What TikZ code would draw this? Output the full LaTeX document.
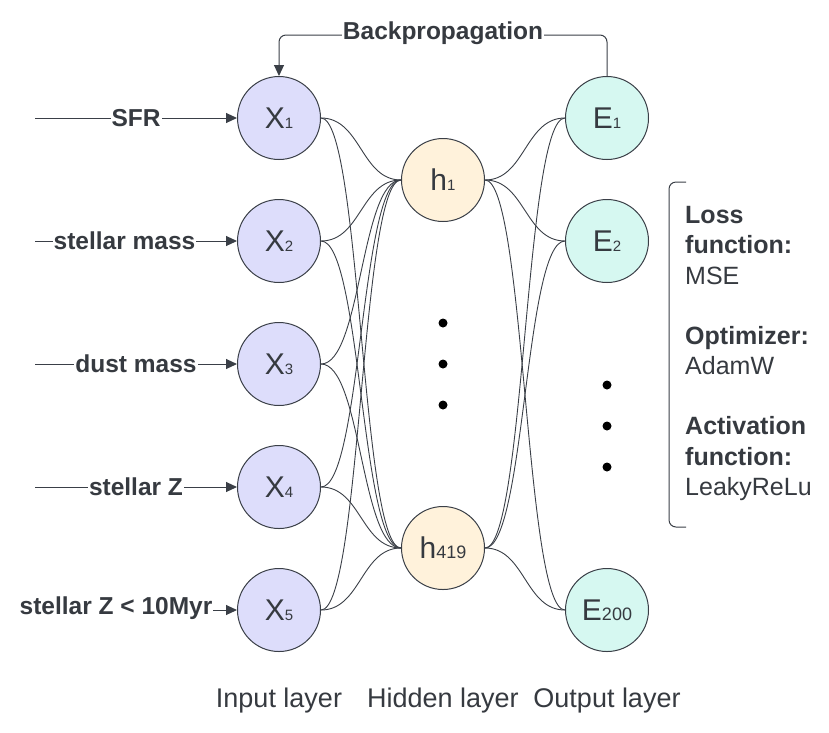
\documentclass[tikz,border=0pt]{standalone}
\usepackage{fontspec}
\setmainfont{Liberation Sans}
\usetikzlibrary{arrows.meta}
\definecolor{ink}{HTML}{3A3F47}
\definecolor{txt}{HTML}{363A40}
\definecolor{infill}{HTML}{DDDDFB}
\definecolor{hidfill}{HTML}{FFF2DB}
\definecolor{outfill}{HTML}{D6F8F1}
\tikzset{
  neuron/.style={circle, draw=ink, line width=1pt, minimum size=83pt, inner sep=0pt, text=txt, font=\fontsize{30}{30}\selectfont},
  inneuron/.style={neuron, fill=infill},
  hidneuron/.style={neuron, fill=hidfill},
  outneuron/.style={neuron, fill=outfill},
  wire/.style={draw=ink, line width=0.9pt},
  feed/.style={draw=ink, line width=1pt, -{Triangle[length=11pt,width=10pt]}},
  lbl/.style={fill=white, inner sep=1pt, text=txt, font=\bfseries\fontsize{24.5}{24.5}\selectfont},
  layerlbl/.style={text=txt, font=\fontsize{27}{27}\selectfont},
  sidetxt/.style={text=txt, font=\fontsize{25}{30.3}\selectfont, align=left, anchor=north west, inner sep=0pt},
  dot/.style={circle, fill=black, inner sep=0pt, minimum size=9pt}
}
\newcommand{\smallsub}[1]{{\fontsize{15}{15}\selectfont #1}}
\newcommand{\midsub}[1]{{\fontsize{18}{18}\selectfont #1}}
\begin{document}
\begin{tikzpicture}[x=1pt, y=-1pt]
\useasboundingbox (0,0) rectangle (829,732);
% input nodes
\node[inneuron] (x1) at (279,118) {X\smallsub{1}};
\node[inneuron] (x2) at (279,241) {X\smallsub{2}};
\node[inneuron] (x3) at (279,364) {X\smallsub{3}};
\node[inneuron] (x4) at (279,487) {X\smallsub{4}};
\node[inneuron] (x5) at (279,610) {X\smallsub{5}};
% hidden
\node[hidneuron] (h1) at (443,180) {h\smallsub{1}};
\node[hidneuron] (h2) at (443,548) {h\midsub{419}};
% output
\node[outneuron] (e1) at (607,118) {E\smallsub{1}};
\node[outneuron] (e2) at (607,241) {E\smallsub{2}};
\node[outneuron] (e3) at (607,610) {E\midsub{200}};
% connections
\foreach \a in {x1,x2,x3,x4,x5}{
  \foreach \b in {h1,h2}{
    \draw[wire] (\a.east) .. controls +(40,0) and +(-40,0) .. (\b.west);
  }
}
\foreach \a in {h1,h2}{
  \foreach \b in {e1,e2,e3}{
    \draw[wire] (\a.east) .. controls +(40,0) and +(-40,0) .. (\b.west);
  }
}
% dots
\node[dot] (d1) at (443,323) {};
\node[dot] (d2) at (443,364) {};
\node[dot] (d3) at (443,405) {};
\node[dot] (d4) at (607,385) {};
\node[dot] (d5) at (607,426) {};
\node[dot] (d6) at (607,467) {};
% input arrows
\coordinate (s1) at (35,118);
\coordinate (s2) at (35,241);
\coordinate (s3) at (35,364);
\coordinate (s4) at (35,487);
\coordinate (s5) at (35,610);
\draw[feed] (s1) -- (x1.west);
\draw[feed] (s2) -- (x2.west);
\draw[feed] (s3) -- (x3.west);
\draw[feed] (s4) -- (x4.west);
\draw[feed] (s5) -- (x5.west);
\node[lbl] (l1) at (136,118) {SFR};
\node[lbl] (l2) at (124.5,241) {stellar mass};
\node[lbl] (l3) at (136,364) {dust mass};
\node[lbl] (l4) at (136,487) {stellar Z};
\node[lbl] (l5) at (116,608) {stellar Z < 10Myr};
% backpropagation
\draw[feed, rounded corners=7pt] (e1.north) -- (607,35) -- (279,35) -- (x1.north);
\node[lbl] (bp) at (443,33) {Backpropagation};
% bracket
\coordinate (bt) at (686,182);
\coordinate (bb) at (686,527);
\draw[draw=ink, line width=1pt, rounded corners=7pt] (bt) -- (669,182) -- (669,527) -- (bb);
\node[sidetxt] (side) at (685,206) {\textbf{Loss}\\\textbf{function:}\\MSE\\[30pt]\textbf{Optimizer:}\\AdamW\\[30pt]\textbf{Activation}\\\textbf{function:}\\LeakyReLu};
% layer labels
\node[layerlbl] (il) at (279,701) {Input layer};
\node[layerlbl] (hl) at (443,701) {Hidden layer};
\node[layerlbl] (ol) at (607,701) {Output layer};
\end{tikzpicture}
\end{document}
